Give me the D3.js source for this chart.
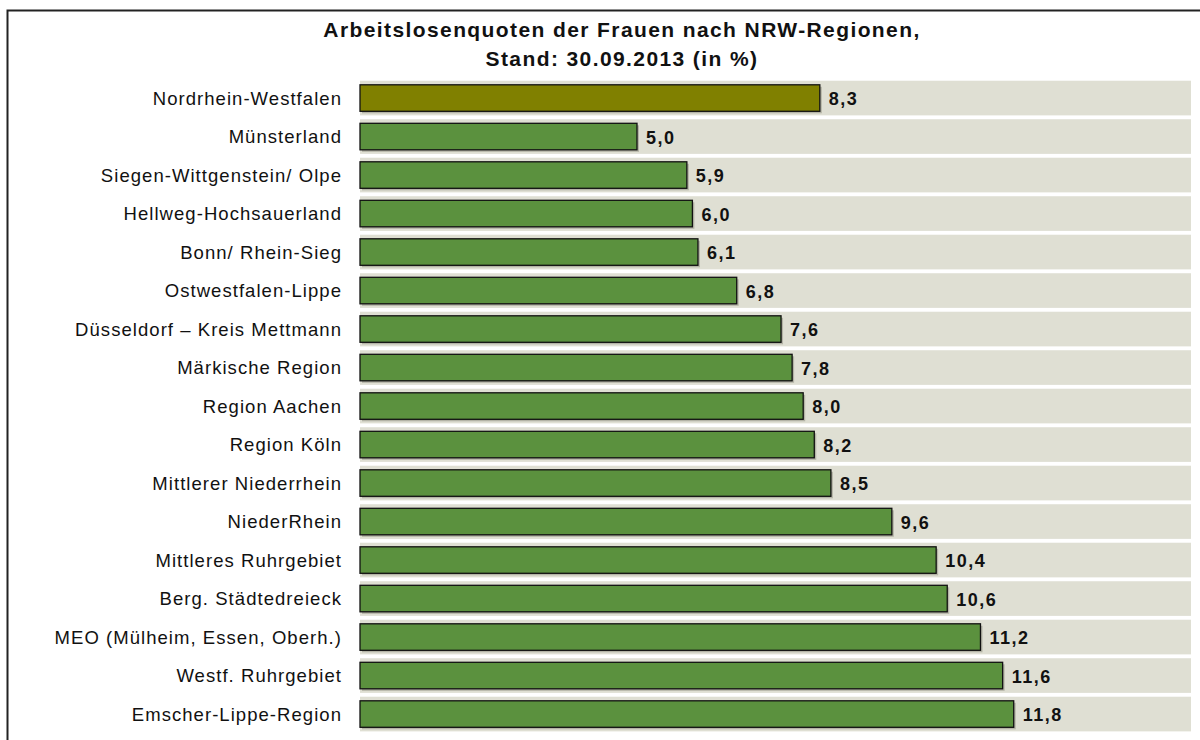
<!DOCTYPE html>
<html lang="de">
<head>
<meta charset="UTF-8">
<title>Arbeitslosenquoten der Frauen</title>
<script src="https://cdn.jsdelivr.net/npm/d3@7"></script>
<style>
  body { margin: 0; background: #fff; }
  svg { display: block; font-family: "Liberation Sans", Arial, sans-serif; }
</style>
</head>
<body>
<div id="chart"></div>
<script>
const regions = [
    "Nordrhein-Westfalen", "Münsterland", "Siegen-Wittgenstein/ Olpe",
    "Hellweg-Hochsauerland", "Bonn/ Rhein-Sieg", "Ostwestfalen-Lippe",
    "Düsseldorf – Kreis Mettmann", "Märkische Region", "Region Aachen",
    "Region Köln", "Mittlerer Niederrhein", "NiederRhein",
    "Mittleres Ruhrgebiet", "Berg. Städtedreieck", "MEO (Mülheim, Essen, Oberh.)",
    "Westf. Ruhrgebiet", "Emscher-Lippe-Region"
];
const quoten = [8.3, 5.0, 5.9, 6.0, 6.1, 6.8, 7.6, 7.8, 8.0, 8.2, 8.5, 9.6, 10.4, 10.6, 11.2, 11.6, 11.8];
const titleLines = ["Arbeitslosenquoten der Frauen nach NRW-Regionen,", "Stand: 30.09.2013 (in %)"];

const width = 1200, height = 740;
const svg = d3.select("#chart").append("svg")
    .attr("width", width)
    .attr("height", height);

// outer frame (cut off at right and bottom like the original)
svg.append("rect")
    .attr("x", 7.5).attr("y", 10.5)
    .attr("width", 1300).attr("height", 800)
    .attr("fill", "#fff")
    .attr("stroke", "#222").attr("stroke-width", 2);

const data = regions.map((r, i) => ({ region: r, value: quoten[i] }));

const x = d3.scaleLinear().domain([0, 15]).range([360, 1191]);
const y = d3.scaleBand()
    .domain(regions)
    .range([78.8, 733.3])
    .paddingInner(0.1)
    .paddingOuter(0.05);

const barH = 26.5;
const barOff = (y.bandwidth() - barH) / 2;

// grey background bands
svg.append("g").selectAll("rect")
    .data(data)
    .enter().append("rect")
    .attr("x", x(0))
    .attr("y", d => y(d.region))
    .attr("width", x(15) - x(0))
    .attr("height", y.bandwidth())
    .attr("fill", "#dfdfd3");

// bar shadows
svg.append("g").selectAll("rect")
    .data(data)
    .enter().append("rect")
    .attr("x", x(0) + 2)
    .attr("y", d => y(d.region) + barOff + 2)
    .attr("width", d => x(d.value) - x(0))
    .attr("height", barH)
    .attr("fill", "#b4b4a6");

// bars
svg.append("g").selectAll("rect")
    .data(data)
    .enter().append("rect")
    .attr("x", x(0))
    .attr("y", d => y(d.region) + barOff)
    .attr("width", d => x(d.value) - x(0))
    .attr("height", barH)
    .attr("fill", (d, i) => i === 0 ? "#808000" : "#5b913e")
    .attr("stroke", "#111")
    .attr("stroke-width", 1.3);

// value labels
svg.append("g").selectAll("text")
    .data(data)
    .enter().append("text")
    .attr("x", d => x(d.value) + 9)
    .attr("y", d => y(d.region) + y.bandwidth() / 2 + 7)
    .style("font-size", "18px")
    .style("font-weight", "bold")
    .style("letter-spacing", "1.5px")
    .attr("fill", "#111")
    .text(d => d3.format(".1f")(d.value).replace(".", ","));

// category labels
svg.append("g").selectAll("text")
    .data(data)
    .enter().append("text")
    .attr("x", 342)
    .attr("y", d => y(d.region) + y.bandwidth() / 2 + 6.5)
    .attr("text-anchor", "end")
    .style("font-size", "18.5px")
    .style("letter-spacing", "1.05px")
    .attr("fill", "#111")
    .text(d => d.region);

// title
svg.append("g").selectAll("text")
    .data(titleLines)
    .enter().append("text")
    .attr("x", 622)
    .attr("y", (d, i) => 36.5 + i * 29.5)
    .attr("text-anchor", "middle")
    .style("font-size", "21px")
    .style("font-weight", "bold")
    .style("letter-spacing", "1.4px")
    .attr("fill", "#111")
    .text(d => d);
</script>
</body>
</html>
